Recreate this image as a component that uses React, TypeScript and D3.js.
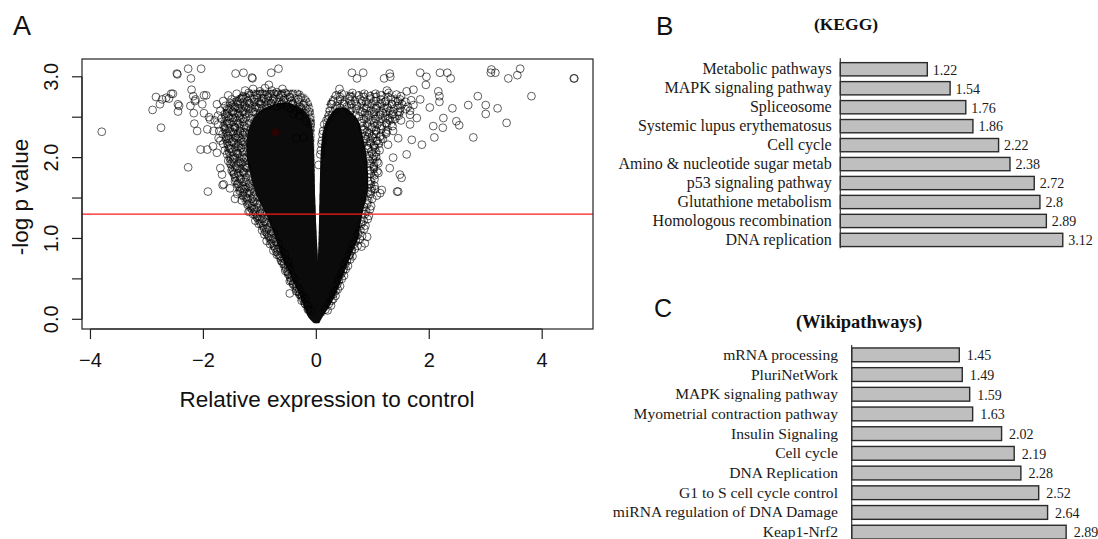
import React from "react";
import * as d3 from "d3";

const W = 1098;
const H = 539;

// ---------- Panel A: volcano plot ----------
const xTicks = [-4, -2, 0, 2, 4];
const yTicks = [0, 0.5, 1, 1.5, 2, 2.5, 3];
const yTickLabels = [0, 1, 2, 3];
const pCutoff = 1.3; // -log10(0.05)

// Fully saturated mass of genes per arm: [-log p, fold change left edge, fold change right edge]
const leftCore: [number, number, number][] = [
  [-0.05, -0.04, 0.01],
  [0.02, -0.15, 0.03],
  [0.12, -0.2, 0.03],
  [0.24, -0.26, 0.03],
  [0.36, -0.34, 0.03],
  [0.49, -0.43, 0.03],
  [0.61, -0.5, 0.03],
  [0.73, -0.59, 0.03],
  [0.86, -0.66, 0.02],
  [0.98, -0.71, 0.01],
  [1.11, -0.78, 0.0],
  [1.3, -0.89, -0.01],
  [1.48, -1.03, -0.02],
  [1.6, -1.1, -0.025],
  [1.79, -1.17, -0.03],
  [1.97, -1.23, -0.035],
  [2.16, -1.25, -0.045],
  [2.34, -1.21, -0.06],
  [2.47, -1.14, -0.1],
  [2.57, -1.03, -0.18],
  [2.64, -0.86, -0.33],
  [2.68, -0.64, -0.5],
];

const rightCore: [number, number, number][] = [
  [-0.05, -0.01, 0.05],
  [0.04, -0.04, 0.12],
  [0.2, 0.0, 0.27],
  [0.36, 0.01, 0.38],
  [0.54, 0.01, 0.47],
  [0.77, 0.03, 0.6],
  [0.9, 0.035, 0.68],
  [0.98, 0.04, 0.74],
  [1.11, 0.045, 0.77],
  [1.3, 0.05, 0.81],
  [1.48, 0.055, 0.88],
  [1.6, 0.06, 0.92],
  [1.79, 0.065, 0.92],
  [1.97, 0.07, 0.9],
  [2.16, 0.085, 0.86],
  [2.34, 0.12, 0.8],
  [2.45, 0.17, 0.76],
  [2.54, 0.25, 0.66],
  [2.62, 0.36, 0.52],
];

// Bands of heavily overlapping rings around each arm
const leftHaze: [number, number, number][] = [
  [0.02, -0.13, 0.03],
  [0.18, -0.27, 0.03],
  [0.36, -0.43, 0.03],
  [0.55, -0.57, 0.03],
  [0.73, -0.7, 0.03],
  [0.92, -0.85, 0.01],
  [1.11, -1.0, 0.0],
  [1.29, -1.17, -0.01],
  [1.48, -1.35, -0.02],
  [1.72, -1.52, -0.03],
  [1.97, -1.6, -0.035],
  [2.22, -1.66, -0.04],
  [2.47, -1.7, -0.02],
  [2.65, -1.63, -0.06],
  [2.76, -1.45, -0.13],
  [2.84, -1.15, -0.3],
];

const rightHaze: [number, number, number][] = [
  [0.04, -0.02, 0.14],
  [0.3, 0.01, 0.36],
  [0.61, 0.03, 0.56],
  [0.92, 0.035, 0.75],
  [1.23, 0.05, 0.88],
  [1.48, 0.055, 0.98],
  [1.72, 0.065, 1.06],
  [1.97, 0.07, 1.1],
  [2.22, 0.09, 1.2],
  [2.4, 0.12, 1.4],
  [2.59, 0.15, 1.6],
  [2.74, 0.21, 1.55],
  [2.82, 0.33, 1.3],
];

// Individual genes around the down-regulated arm: [fold change, -log p]
const leftHalo: [number, number][] = [
  [-1.26, 2.83], [-1.12, 2.85], [-1.0, 2.82], [-0.91, 2.86], [-0.79, 2.83], [-0.7, 2.81], [-0.6, 2.85],
  [-1.56, 2.77], [-1.41, 2.79], [-1.3, 2.76], [-1.2, 2.8], [-1.05, 2.77], [-0.95, 2.79], [-0.85, 2.76], [-0.75, 2.79], [-0.62, 2.77], [-0.55, 2.8], [-0.47, 2.75],
  [-1.65, 2.7], [-1.5, 2.72], [-1.4, 2.69], [-1.32, 2.73], [-1.22, 2.7], [-1.1, 2.72], [-1.02, 2.69], [-0.93, 2.73], [-0.85, 2.7], [-0.76, 2.72], [-0.66, 2.69], [-0.58, 2.71], [-0.44, 2.7], [-0.32, 2.72],
  [-1.76, 2.66], [-1.61, 2.64], [-1.52, 2.67], [-1.44, 2.63], [-1.35, 2.66], [-1.27, 2.64], [-1.18, 2.67], [-1.08, 2.63], [-0.98, 2.66], [-0.88, 2.64], [-0.8, 2.67], [-0.7, 2.63], [-0.62, 2.66], [-0.52, 2.64], [-0.42, 2.66], [-0.3, 2.63], [-0.23, 2.65],
  [-1.7, 2.58], [-1.58, 2.6], [-1.48, 2.57], [-1.38, 2.61], [-1.3, 2.58], [-1.2, 2.6], [-1.12, 2.57], [-1.02, 2.61], [-0.46, 2.61], [-0.36, 2.58], [-0.26, 2.6],
  [-1.74, 2.52], [-1.62, 2.54], [-1.55, 2.51], [-1.45, 2.55], [-1.36, 2.52], [-1.26, 2.54], [-0.4, 2.54], [-0.3, 2.52], [-0.2, 2.55],
  [-1.8, 2.46], [-1.68, 2.48], [-1.58, 2.45], [-1.48, 2.49], [-1.4, 2.46], [-1.3, 2.48], [-0.18, 2.45],
  [-1.74, 2.41], [-1.64, 2.39], [-1.54, 2.42], [-1.45, 2.38], [-1.36, 2.41], [-1.28, 2.39], [-0.1, 2.42],
  [-1.72, 2.33], [-1.62, 2.35], [-1.52, 2.32], [-1.44, 2.36], [-1.35, 2.33], [-1.27, 2.31],
  [-1.66, 2.29], [-1.56, 2.27], [-1.47, 2.3], [-1.38, 2.26], [-1.3, 2.28],
  [-1.7, 2.21], [-1.6, 2.23], [-1.5, 2.2], [-1.42, 2.24], [-1.33, 2.21],
  [-1.65, 2.17], [-1.55, 2.15], [-1.46, 2.18], [-1.38, 2.14], [-1.3, 2.16],
  [-1.62, 2.09], [-1.52, 2.11], [-1.42, 2.08], [-1.33, 2.12],
  [-1.58, 2.04], [-1.48, 2.02], [-1.4, 2.05], [-1.31, 2.01],
  [-1.56, 1.96], [-1.46, 1.98], [-1.36, 1.95], [-1.28, 1.99],
  [-1.52, 1.92], [-1.42, 1.9], [-1.33, 1.93], [-1.26, 1.89],
  [-1.5, 1.84], [-1.4, 1.86], [-1.3, 1.83], [-1.23, 1.87],
  [-1.46, 1.8], [-1.36, 1.78], [-1.28, 1.81],
  [-1.44, 1.71], [-1.34, 1.73], [-1.25, 1.7],
  [-1.4, 1.67], [-1.3, 1.65], [-1.2, 1.64],
  [-1.36, 1.59], [-1.27, 1.61], [-1.18, 1.58],
  [-1.4, 1.55], [-1.3, 1.53], [-1.22, 1.56], [-1.12, 1.52],
  [-1.32, 1.47], [-1.22, 1.49], [-1.12, 1.46],
  [-1.22, 1.42], [-1.14, 1.4], [-1.05, 1.43],
  [-1.18, 1.34], [-1.1, 1.36], [-1.0, 1.33],
  [-1.12, 1.3], [-1.04, 1.28], [-0.96, 1.31],
  [-1.08, 1.22], [-1.0, 1.24], [-0.92, 1.21],
  [-1.02, 1.18], [-0.94, 1.16], [-0.86, 1.19],
  [-0.96, 1.1], [-0.88, 1.12], [-0.8, 1.09],
  [-0.92, 1.05], [-0.84, 1.03], [-0.76, 1.06],
  [-0.88, 0.97], [-0.8, 0.99], [-0.72, 0.96],
  [-0.82, 0.93], [-0.75, 0.91], [-0.67, 0.94],
  [-0.76, 0.85], [-0.68, 0.87], [-0.62, 0.84],
  [-0.7, 0.8], [-0.63, 0.78], [-0.56, 0.81],
  [-0.62, 0.72], [-0.56, 0.74], [-0.5, 0.71],
  [-0.57, 0.68], [-0.5, 0.66], [-0.55, 0.6], [-0.47, 0.62], [-0.5, 0.56], [-0.43, 0.54],
  [-0.45, 0.48], [-0.39, 0.5], [-0.41, 0.43], [-0.35, 0.41], [-0.36, 0.35], [-0.3, 0.37],
  [-0.3, 0.31], [-0.25, 0.29], [-0.26, 0.23], [-0.2, 0.25], [-0.2, 0.19], [-0.15, 0.17],
  [-0.15, 0.12], [-0.1, 0.11], [-0.47, 0.47],
];

// Individual genes around the up-regulated arm
const rightHalo: [number, number][] = [
  [0.41, 2.85], [1.25, 2.83], [1.6, 2.82], [1.72, 2.84],
  [0.35, 2.77], [0.45, 2.79], [0.6, 2.76], [0.64, 2.8], [0.75, 2.77], [0.85, 2.79], [0.95, 2.76], [1.05, 2.79], [1.15, 2.77], [1.28, 2.8], [1.42, 2.78], [1.5, 2.76],
  [0.3, 2.7], [0.42, 2.72], [0.5, 2.69], [0.58, 2.73], [0.68, 2.7], [0.78, 2.72], [0.88, 2.69], [0.96, 2.73], [1.06, 2.7], [1.14, 2.72], [1.22, 2.69], [1.32, 2.73], [1.4, 2.7], [1.48, 2.72], [1.58, 2.69], [1.68, 2.71],
  [0.26, 2.66], [0.36, 2.64], [0.46, 2.67], [0.54, 2.63], [0.62, 2.66], [0.72, 2.64], [0.8, 2.67], [0.9, 2.63], [0.98, 2.66], [1.08, 2.64], [1.16, 2.67], [1.25, 2.63], [1.34, 2.66], [1.44, 2.64], [1.52, 2.66], [1.62, 2.63], [1.72, 2.65],
  [0.24, 2.58], [0.34, 2.6], [0.6, 2.58], [0.7, 2.6], [0.78, 2.57], [0.88, 2.61], [0.96, 2.58], [1.05, 2.6], [1.12, 2.57], [1.2, 2.61], [1.3, 2.58], [1.38, 2.6], [1.48, 2.57], [1.58, 2.6], [1.66, 2.58],
  [0.22, 2.52], [0.76, 2.51], [0.86, 2.55], [0.94, 2.52], [1.02, 2.54], [1.1, 2.51], [1.18, 2.55], [1.26, 2.52], [1.36, 2.54], [1.46, 2.52], [1.66, 2.53],
  [0.18, 2.46], [0.8, 2.45], [0.88, 2.49], [0.96, 2.46], [1.04, 2.48], [1.12, 2.45], [1.22, 2.49], [1.3, 2.46], [1.4, 2.48], [1.5, 2.46],
  [0.14, 2.41], [0.82, 2.39], [0.9, 2.42], [0.98, 2.38], [1.08, 2.41], [1.16, 2.39], [1.25, 2.42], [1.35, 2.39], [1.66, 2.41],
  [0.12, 2.33], [0.82, 2.35], [0.9, 2.32], [0.98, 2.36], [1.06, 2.33], [1.15, 2.35], [1.24, 2.32],
  [0.11, 2.29], [0.86, 2.27], [0.94, 2.3], [0.98, 2.26], [1.06, 2.29], [1.14, 2.27], [1.24, 2.3],
  [0.1, 2.21], [0.88, 2.23], [0.95, 2.2], [1.0, 2.24], [1.08, 2.21], [1.18, 2.23],
  [0.09, 2.17], [0.9, 2.15], [0.96, 2.18], [1.02, 2.14], [1.1, 2.17],
  [0.08, 2.09], [0.92, 2.11], [0.98, 2.08], [1.04, 2.12], [1.12, 2.09],
  [0.07, 2.04], [0.94, 2.02], [0.99, 2.05], [1.06, 2.01],
  [0.94, 1.96], [1.0, 1.98], [1.08, 1.95],
  [0.95, 1.92], [1.02, 1.9], [1.1, 1.93],
  [0.95, 1.84], [1.02, 1.86], [1.08, 1.83],
  [0.96, 1.8], [1.03, 1.78], [1.1, 1.81],
  [0.96, 1.71], [1.03, 1.73],
  [0.96, 1.67], [1.03, 1.65], [0.98, 1.62],
  [0.97, 1.59], [1.04, 1.61], [1.16, 1.6],
  [0.96, 1.55], [1.07, 1.53],
  [0.92, 1.47], [0.99, 1.49], [0.9, 1.42], [0.97, 1.4], [0.88, 1.34], [0.95, 1.36],
  [0.86, 1.3], [0.93, 1.28], [0.84, 1.22], [0.91, 1.24], [0.8, 1.18], [0.87, 1.16],
  [0.78, 1.1], [0.85, 1.12], [0.74, 1.05], [0.81, 1.03], [0.7, 0.97], [0.77, 0.99],
  [0.66, 0.93], [0.73, 0.91], [0.62, 0.85], [0.68, 0.87], [0.58, 0.8], [0.64, 0.78],
  [0.54, 0.72], [0.6, 0.74], [0.5, 0.68], [0.56, 0.66], [0.47, 0.6], [0.52, 0.62],
  [0.44, 0.56], [0.49, 0.54], [0.4, 0.48], [0.45, 0.5], [0.37, 0.43], [0.42, 0.41],
  [0.34, 0.35], [0.38, 0.37], [0.3, 0.31], [0.34, 0.29], [0.27, 0.23], [0.3, 0.25],
  [0.22, 0.19], [0.26, 0.17], [0.16, 0.12], [0.2, 0.11],
  [0.86, 0.94], [0.9, 1.02], [0.8, 0.9],
];

// Scattered genes far from the two arms
const outliers: [number, number][] = [
  [-3.8, 2.32], [-2.47, 3.04], [-2.46, 3.03], [-2.27, 3.1], [-2.04, 3.1], [-2.22, 2.98],
  [-1.43, 3.04], [-1.29, 3.05], [-1.14, 2.99], [-1.13, 2.98], [-0.8, 3.05], [-0.67, 3.1], [-0.84, 2.9],
  [-2.84, 2.75], [-2.73, 2.72], [-2.57, 2.79], [-2.61, 2.73], [-2.66, 2.74], [-2.54, 2.79],
  [-2.9, 2.59], [-2.77, 2.66], [-2.45, 2.66], [-2.45, 2.57], [-2.43, 2.64], [-2.75, 2.37],
  [-2.27, 1.88], [-2.21, 2.84], [-2.18, 2.76], [-2.15, 2.7], [-2.23, 2.64], [-2.14, 2.72],
  [-1.99, 2.77], [-1.95, 2.77], [-2.02, 2.66], [-2.17, 2.55], [-1.99, 2.55], [-1.9, 2.5],
  [-1.88, 2.47], [-2.16, 2.42], [-2.11, 2.33], [-1.93, 2.35], [-2.05, 2.1], [-1.93, 2.1],
  [-1.82, 2.33], [-1.73, 2.24], [-1.83, 2.14], [-1.76, 2.06], [-1.7, 1.87], [-1.67, 1.79],
  [-1.64, 1.67], [-1.92, 1.58], [-1.66, 1.66], [-1.53, 1.62], [-1.44, 1.49], [-1.2, 1.33],
  [-0.47, 0.32], [-0.35, 2.24], [-0.23, 2.25], [0.04, 1.91],
  [0.63, 3.05], [0.83, 3.05], [0.72, 2.98], [1.2, 2.98], [1.3, 3.04], [1.31, 3.0],
  [1.84, 3.05], [1.95, 3.0], [2.19, 3.05], [2.32, 3.05], [2.38, 2.98], [1.94, 2.9],
  [2.16, 2.82], [2.18, 2.76], [2.18, 2.69], [1.84, 2.72], [2.01, 2.62], [2.25, 2.49],
  [2.07, 2.39], [2.09, 2.25], [1.87, 2.16], [1.69, 2.22], [1.6, 2.04], [1.48, 1.79],
  [1.45, 1.58], [1.51, 1.75], [1.78, 2.49], [2.41, 2.61], [2.24, 2.37], [2.48, 2.45],
  [2.53, 2.4], [2.69, 2.65], [2.86, 2.76], [3.0, 2.65], [3.0, 2.54], [3.21, 2.61],
  [2.78, 2.25], [3.37, 2.43], [3.1, 3.09], [3.09, 3.05], [3.17, 3.05], [3.4, 2.98],
  [3.56, 3.02], [3.61, 3.1], [3.81, 2.76], [4.56, 2.98], [4.57, 2.98],
  [1.13, 1.56], [1.43, 1.58], [1.3, 1.87], [1.36, 2.0], [1.27, 2.16], [1.45, 2.24],
  [1.36, 2.33], [1.3, 2.49],
];

const highlighted: [number, number][] = [[-0.72, 2.31]];

// ---------- Panel B: KEGG enrichment ----------
const keggNames = [
  "Metabolic pathways",
  "MAPK signaling pathway",
  "Spliceosome",
  "Systemic lupus erythematosus",
  "Cell cycle",
  "Amino & nucleotide sugar metab",
  "p53 signaling pathway",
  "Glutathione metabolism",
  "Homologous recombination",
  "DNA replication",
];
const keggValues = [1.22, 1.54, 1.76, 1.86, 2.22, 2.38, 2.72, 2.8, 2.89, 3.12];

// ---------- Panel C: Wikipathways enrichment ----------
const wikiNames = [
  "mRNA processing",
  "PluriNetWork",
  "MAPK signaling pathway",
  "Myometrial contraction pathway",
  "Insulin Signaling",
  "Cell cycle",
  "DNA Replication",
  "G1 to S cell cycle control",
  "miRNA regulation of DNA Damage",
  "Keap1-Nrf2",
];
const wikiValues = [1.45, 1.49, 1.59, 1.63, 2.02, 2.19, 2.28, 2.52, 2.64, 2.89];

const SANS = "'Liberation Sans', Arial, Helvetica, sans-serif";
const SERIF = "'Liberation Serif', 'Times New Roman', serif";

function fmt(v: number) {
  return v < 0 ? "\u2212" + Math.abs(v) : String(v);
}

// Seamless tile of open rings, used to texture the crowded regions
function RingTile(props: { id: string; w: number; h: number; centers: [number, number][]; opacity: number }) {
  const shifts = [-1, 0, 1];
  return (
    <pattern id={props.id} width={props.w} height={props.h} patternUnits="userSpaceOnUse">
      {props.centers.flatMap((c, i) =>
        shifts.flatMap((sx) =>
          shifts.map((sy) => (
            <circle
              key={`${i}-${sx}-${sy}`}
              cx={c[0] + sx * props.w}
              cy={c[1] + sy * props.h}
              r={3.9}
              fill="none"
              stroke="#000"
              strokeOpacity={props.opacity}
              strokeWidth={1}
            />
          ))
        )
      )}
    </pattern>
  );
}

function Volcano() {
  const x = d3.scaleLinear().domain([-4.15, 4.9]).range([82, 593]);
  const y = d3.scaleLinear().domain([-0.12, 3.22]).range([329, 59]);
  const band = d3
    .area<[number, number, number]>()
    .y((d) => y(d[0]))
    .x0((d) => x(d[1]))
    .x1((d) => x(d[2]))
    .curve(d3.curveBasis);
  const pts = [...leftHalo, ...rightHalo, ...outliers];
  const [x0, x1] = x.range();
  const [yb, yt] = y.range();
  return (
    <g>
      <defs>
        <clipPath id="plotClip">
          <rect x={x0} y={yt} width={x1 - x0} height={yb - yt} />
        </clipPath>
        <RingTile
          id="ringsDense"
          w={11}
          h={10}
          centers={[[1.5, 2], [7, 3.5], [4, 7.5], [9.5, 8.5]]}
          opacity={0.6}
        />
        <RingTile id="ringsLight" w={12} h={11} centers={[[2, 2], [8, 5], [4, 9]]} opacity={0.55} />
      </defs>
      <g clipPath="url(#plotClip)">
        <path d={band(leftHaze) || ""} fill="#000" fillOpacity={0.18} />
        <path d={band(leftHaze) || ""} fill="url(#ringsDense)" />
        <path d={band(rightHaze) || ""} fill="url(#ringsLight)" />
        <path d={band(leftCore) || ""} fill="#0b0b0b" />
        <path d={band(rightCore) || ""} fill="#0b0b0b" />
        {pts.map((p, i) => (
          <circle
            key={i}
            cx={x(p[0])}
            cy={y(p[1])}
            r={3.9}
            fill="none"
            stroke="#000"
            strokeOpacity={0.62}
            strokeWidth={1}
          />
        ))}
        {highlighted.map((p, i) => (
          <circle key={"h" + i} cx={x(p[0])} cy={y(p[1])} r={4} fill="#2a0303" />
        ))}
        <line x1={x0} x2={x1} y1={y(pCutoff)} y2={y(pCutoff)} stroke="#ff1a1a" strokeWidth={1.3} />
      </g>
      <rect x={x0} y={yt} width={x1 - x0} height={yb - yt} fill="none" stroke="#222" strokeWidth={1.2} />
      {/* y axis */}
      <line x1={x0} x2={x0} y1={y(0)} y2={y(3)} stroke="#222" strokeWidth={1.2} />
      {yTicks.map((t) => (
        <line key={t} x1={x0} x2={x0 - 10} y1={y(t)} y2={y(t)} stroke="#222" strokeWidth={1.2} />
      ))}
      {yTickLabels.map((t) => (
        <text
          key={t}
          transform={`translate(58,${y(t)}) rotate(-90)`}
          textAnchor="middle"
          fontFamily={SANS}
          fontSize={20}
          fill="#111"
        >
          {t.toFixed(1)}
        </text>
      ))}
      {/* x axis */}
      <line x1={x(-4)} x2={x(4)} y1={yb} y2={yb} stroke="#222" strokeWidth={1.2} />
      {xTicks.map((t) => (
        <line key={t} x1={x(t)} x2={x(t)} y1={yb} y2={yb + 10} stroke="#222" strokeWidth={1.2} />
      ))}
      {xTicks.map((t) => (
        <text key={t} x={x(t)} y={367} textAnchor="middle" fontFamily={SANS} fontSize={20} fill="#111">
          {fmt(t)}
        </text>
      ))}
      <text x={327} y={407} textAnchor="middle" fontFamily={SANS} fontSize={22.5} fill="#111">
        Relative expression to control
      </text>
      <text
        transform="translate(28,197) rotate(-90)"
        textAnchor="middle"
        fontFamily={SANS}
        fontSize={22.5}
        fill="#111"
      >
        -log p value
      </text>
      <text x={13} y={35} fontFamily={SANS} fontSize={27} fill="#111">
        A
      </text>
    </g>
  );
}

type BarProps = {
  names: string[];
  values: number[];
  axisX: number;
  unit: number;
  bandTop: number;
  step: number;
  axisTop: number;
  axisBottom: number;
  labelGap: number;
  valueGap: number;
  labelSize: number;
};

function BarPanel(p: BarProps) {
  const maxV = d3.max(p.values) as number;
  const x = d3.scaleLinear().domain([0, maxV]).range([p.axisX, p.axisX + maxV * p.unit]);
  const y = d3
    .scaleBand<string>()
    .domain(p.names)
    .range([p.bandTop, p.bandTop + p.step * p.names.length])
    .paddingInner(0.3)
    .paddingOuter(0.15);
  const bw = y.bandwidth();
  return (
    <g>
      {p.names.map((n, i) => {
        const top = y(n) as number;
        const cy = top + bw / 2;
        return (
          <g key={n}>
            <rect
              x={x(0)}
              y={top}
              width={x(p.values[i]) - x(0)}
              height={bw}
              fill="#bfbfbf"
              stroke="#2a2a2a"
              strokeWidth={1.4}
            />
            <text
              x={p.axisX - p.labelGap}
              y={cy + 5}
              textAnchor="end"
              fontFamily={SERIF}
              fontSize={p.labelSize}
              fill="#1a1a1a"
            >
              {n}
            </text>
            <text
              x={x(p.values[i]) + p.valueGap}
              y={cy + 5.3}
              fontFamily={SERIF}
              fontSize={14}
              fill="#1a1a1a"
            >
              {String(p.values[i])}
            </text>
          </g>
        );
      })}
      <line x1={p.axisX} x2={p.axisX} y1={p.axisTop} y2={p.axisBottom} stroke="#333" strokeWidth={1.2} />
    </g>
  );
}

export default function App() {
  return (
    <svg
      width={W}
      height={H}
      viewBox={`0 0 ${W} ${H}`}
      style={{ position: "absolute", left: 0, top: 0, background: "#fff" }}
    >
      <rect width={W} height={H} fill="#fff" />
      <Volcano />

      <text x={656} y={35} fontFamily={SANS} fontSize={26} fill="#111">
        B
      </text>
      <text x={846} y={30} textAnchor="middle" fontFamily={SERIF} fontWeight="bold" fontSize={17.5} fill="#111">
        (KEGG)
      </text>
      <BarPanel
        names={keggNames}
        values={keggValues}
        axisX={840.3}
        unit={71.3}
        bandTop={59.8}
        step={18.96}
        axisTop={58.3}
        axisBottom={248.3}
        labelGap={8.6}
        valueGap={5.5}
        labelSize={16}
      />

      <text x={654} y={317} fontFamily={SANS} fontSize={25} fill="#111">
        C
      </text>
      <text x={859} y={328} textAnchor="middle" fontFamily={SERIF} fontWeight="bold" fontSize={18.5} fill="#111">
        (Wikipathways)
      </text>
      <BarPanel
        names={wikiNames}
        values={wikiValues}
        axisX={851.7}
        unit={74.2}
        bandTop={345.0}
        step={19.7}
        axisTop={345}
        axisBottom={560}
        labelGap={13.7}
        valueGap={7.5}
        labelSize={15.6}
      />
    </svg>
  );
}
